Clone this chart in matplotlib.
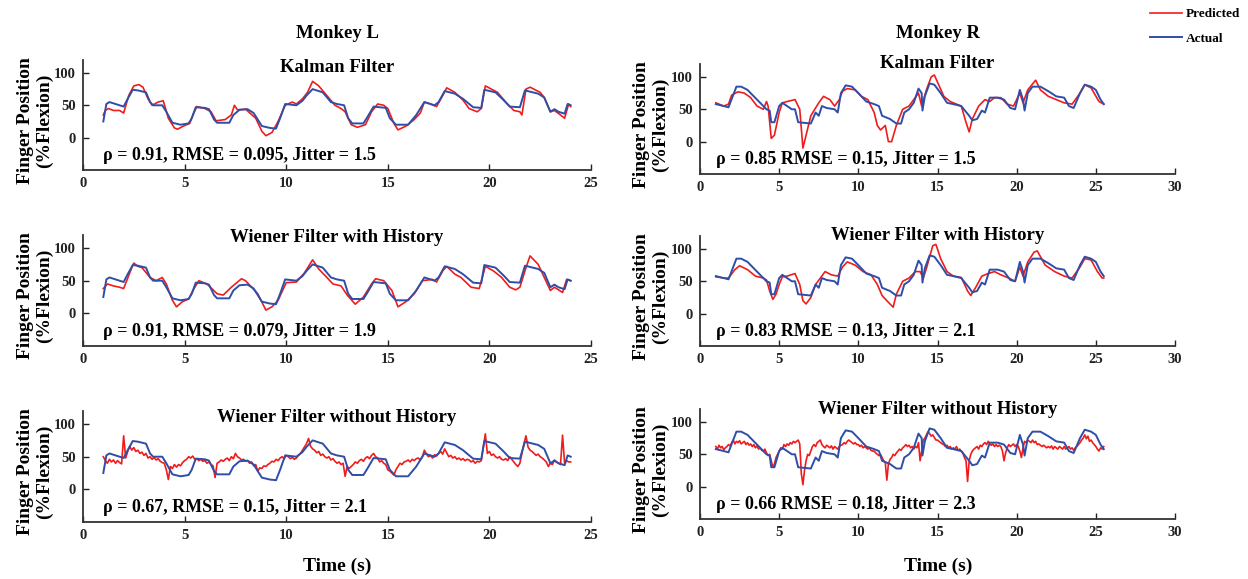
import numpy as np
import matplotlib
matplotlib.use('Agg')
import matplotlib.pyplot as plt

plt.rcParams['font.family'] = ['Liberation Serif', 'DejaVu Serif']
plt.rcParams['font.weight'] = 'bold'

# ---- Monkey L ----
act_L_t = [1.0, 1.15, 1.3, 1.6, 2.0, 2.2, 2.45, 2.7, 3.1, 3.3, 3.45, 3.9, 4.1, 4.4, 4.8, 5.2, 5.35, 5.55,
           6.0, 6.2, 6.45, 6.6, 7.2, 7.4, 7.7, 8.1, 8.4, 8.8, 9.2, 9.5, 9.7, 9.95, 10.5, 10.8, 11.0, 11.3,
           11.8, 12.2, 12.5, 12.85, 13.05, 13.25, 13.8, 14.0, 14.3, 14.9, 15.1, 15.4, 16.0, 16.4, 16.8,
           17.3, 17.5, 17.8, 18.3, 18.7, 19.2, 19.6, 19.75, 20.3, 20.7, 21.0, 21.5, 21.75, 22.4, 22.7,
           23.0, 23.2, 23.4, 23.7, 23.85, 24.0]
act_L_y = [25, 52, 55, 52, 48, 60, 74, 73, 70, 55, 50, 50, 40, 23, 20, 22, 30, 47,
           46, 44, 28, 23, 23, 35, 43, 44, 38, 18, 15, 14, 30, 52, 50, 57, 65, 75,
           70, 55, 52, 50, 30, 22, 22, 32, 48, 46, 30, 20, 20, 35, 55,
           50, 55, 72, 68, 60, 47, 46, 74, 70, 58, 48, 47, 73, 68, 62,
           40, 44, 40, 37, 52, 50]

kal_L_t = [1.0, 1.1, 1.25, 1.5, 1.8, 2.0, 2.25, 2.5, 2.75, 2.95, 3.2, 3.4, 3.7, 3.95, 4.2, 4.5, 4.65,
           4.95, 5.25, 5.45, 5.6, 6.0, 6.3, 6.55, 7.0, 7.3, 7.45, 7.6, 8.0, 8.5, 8.8, 9.0, 9.3, 9.6,
           9.95, 10.3, 10.5, 10.8, 11.05, 11.3, 11.6, 12.0, 12.4, 12.7, 12.9, 13.2, 13.5, 13.9, 14.2,
           14.5, 14.8, 15.0, 15.3, 15.5, 15.9, 16.3, 16.6, 16.8, 17.1, 17.4, 17.7, 17.9, 18.3, 18.7,
           19.0, 19.4, 19.6, 19.8, 20.1, 20.4, 20.8, 21.2, 21.5, 21.6, 21.8, 22.0, 22.5, 22.7, 23.0,
           23.2, 23.5, 23.7, 23.9, 24.0]
kal_L_y = [35, 42, 45, 42, 42, 38, 65, 80, 82, 78, 60, 50, 55, 57, 30, 15, 13,
           18, 22, 38, 48, 45, 40, 26, 28, 35, 50, 43, 44, 30, 10, 3, 8, 25,
           50, 55, 52, 60, 70, 87, 80, 65, 50, 45, 40, 20, 16, 20, 40,
           52, 50, 45, 22, 12, 18, 28, 38, 55, 52, 48, 65, 77, 70, 58,
           45, 40, 45, 80, 75, 70, 55, 42, 40, 35, 75, 78, 70, 62, 40,
           42, 35, 30, 52, 48]

wh_L_t = [1.0, 1.2, 1.5, 1.8, 2.0, 2.4, 2.5, 2.7, 2.9, 3.3, 3.6, 3.9, 4.1, 4.4, 4.6, 4.9, 5.2, 5.5,
          5.7, 6.1, 6.6, 6.9, 7.3, 7.8, 8.0, 8.6, 9.0, 9.3, 9.6, 10.0, 10.5, 10.9, 11.3, 11.6, 12.0,
          12.3, 12.7, 13.0, 13.4, 13.8, 14.2, 14.4, 14.8, 15.2, 15.5, 15.9, 16.3, 16.7, 17.2, 17.4,
          17.7, 17.9, 18.3, 18.6, 19.1, 19.5, 19.8, 20.2, 20.6, 21.0, 21.3, 21.5, 21.8, 22.0, 22.4,
          22.7, 23.0, 23.2, 23.6, 23.8, 24.0]
wh_L_y = [38, 45, 42, 40, 38, 70, 77, 72, 70, 55, 50, 55, 45, 20, 10, 18, 22, 40,
          50, 45, 30, 28, 40, 53, 50, 30, 5, 10, 20, 47, 48, 62, 82, 68, 55,
          45, 42, 28, 14, 25, 45, 53, 50, 35, 10, 18, 30, 50, 52, 48,
          65, 72, 60, 55, 40, 38, 72, 65, 55, 40, 36, 40, 70, 88, 75,
          55, 35, 40, 32, 52, 50]

woh_L_t = np.round(np.arange(1.0, 24.05, 0.1), 2)
woh_L_y = [50, 44, 40, 46, 42, 45, 40, 44, 41, 39,
           82, 48, 58, 66, 60, 64, 58, 60, 55, 57,
           52, 55, 48, 50, 46, 49, 45, 47, 43, 41,
           40, 30, 15, 35, 32, 38, 34, 38, 36, 41,
           44, 46, 50, 48, 51, 46, 47, 44, 46, 43,
           44, 40, 42, 38, 36, 18, 40, 42, 45, 43,
           46, 48, 44, 50, 47, 55, 50, 48, 45, 46,
           43, 44, 40, 42, 36, 38, 28, 33, 32, 36,
           35, 38, 40, 43, 42, 46, 44, 48, 50, 47,
           52, 50, 47, 49, 46, 48, 52, 55, 60, 65,
           70, 78, 66, 62, 60, 56, 58, 52, 54, 50,
           48, 50, 45, 47, 43, 40, 42, 38, 40, 20,
           35, 32, 35, 38, 42, 40, 44, 46, 43, 48,
           50, 47, 52, 55, 50, 48, 42, 44, 40, 38,
           30, 28, 25, 22, 30, 35, 40, 38, 42, 43,
           45, 42, 46, 44, 47, 48, 45, 50, 60, 54,
           50, 52, 48, 53, 51, 55, 58, 54, 62, 56,
           50, 52, 48, 50, 46, 48, 45, 47, 44, 46,
           45, 42, 44, 40, 43, 42, 44, 65, 85, 55,
           58, 52, 54, 50, 48, 50, 46, 45, 47, 44,
           50, 46, 42, 38, 35, 40, 55, 70, 82, 65,
           60, 58, 55, 52, 54, 50, 48, 45, 42, 35,
           40, 38, 45, 42, 40, 38, 83, 40, 44, 42,
           42]

# ---- Monkey R ----
act_R_t = [1.0, 1.5, 1.8, 2.3, 2.6, 3.0, 3.4, 3.8, 4.2, 4.4, 4.5, 4.7, 5.0, 5.2, 5.5, 5.8, 6.0, 6.2,
           7.0, 7.3, 7.5, 7.7, 8.0, 8.5, 8.7, 8.9, 9.2, 9.6, 10.0, 10.5, 11.0, 11.3, 11.5, 12.0, 12.4,
           12.7, 12.9, 13.2, 13.5, 13.8, 14.0, 14.05, 14.2, 14.5, 14.8, 15.2, 15.6, 16.0, 16.5, 17.0,
           17.2, 17.5, 17.8, 18.0, 18.3, 18.8, 19.2, 19.6, 19.9, 20.2, 20.4, 20.5, 20.7, 21.0, 21.5,
           22.0, 22.5, 23.0, 23.3, 23.6, 24.0, 24.3, 24.7, 25.0, 25.3, 25.5]
act_R_y = [58, 55, 53, 85, 85, 80, 70, 60, 50, 48, 30, 30, 55, 60, 55, 50, 50, 30,
           28, 45, 40, 55, 52, 50, 45, 75, 87, 85, 75, 62, 58, 55, 40, 35, 28,
           28, 45, 50, 60, 82, 75, 48, 70, 90, 88, 75, 60, 58, 55, 40,
           33, 35, 48, 45, 68, 68, 65, 52, 50, 80, 65, 48, 75, 85, 85,
           78, 70, 68, 55, 52, 75, 88, 85, 80, 65, 58]

kal_R_t = [1.0, 1.5, 1.8, 2.0, 2.4, 2.8, 3.2, 3.6, 4.0, 4.2, 4.3, 4.5, 4.7, 5.0, 5.2, 5.5, 6.0, 6.3,
           6.5, 6.7, 7.0, 7.5, 7.8, 8.2, 8.5, 8.8, 9.0, 9.3, 9.8, 10.2, 10.6, 11.0, 11.2, 11.4, 11.7,
           11.9, 12.1, 12.4, 12.8, 13.2, 13.5, 13.8, 14.0, 14.3, 14.6, 14.8, 15.0, 15.4, 15.8, 16.2,
           16.5, 16.8, 17.0, 17.2, 17.6, 18.0, 18.3, 18.6, 19.0, 19.4, 19.8, 20.0, 20.2, 20.4, 20.7,
           21.2, 21.5, 22.0, 22.5, 23.0, 23.5, 24.0, 24.3, 24.7, 25.2, 25.5]
kal_R_y = [60, 55, 58, 72, 77, 75, 68, 55, 50, 62, 55, 5, 10, 45, 60, 62, 65, 50,
           -10, 10, 40, 60, 70, 65, 55, 65, 78, 82, 80, 70, 65, 45, 25, 18, 25,
           0, 0, 25, 50, 55, 65, 75, 55, 80, 100, 103, 92, 70, 62, 58,
           55, 30, 15, 35, 55, 65, 62, 68, 68, 58, 55, 65, 75, 60, 80,
           95, 80, 70, 65, 60, 58, 75, 88, 83, 62, 58]

wh_R_t = [1.0, 1.5, 1.8, 2.2, 2.5, 3.0, 3.5, 4.0, 4.2, 4.4, 4.6, 4.8, 5.0, 5.2, 5.5, 6.0, 6.3, 6.5,
          6.7, 7.0, 7.3, 7.6, 7.9, 8.3, 8.7, 9.0, 9.3, 9.8, 10.3, 10.8, 11.2, 11.5, 11.8, 12.0, 12.2,
          12.4, 12.8, 13.2, 13.6, 13.9, 14.1, 14.3, 14.7, 14.9, 15.2, 15.6, 16.0, 16.5, 16.9, 17.1,
          17.4, 17.8, 18.2, 18.6, 19.0, 19.5, 19.9, 20.2, 20.4, 20.7, 21.1, 21.3, 21.8, 22.4, 23.0,
          23.5, 24.0, 24.3, 24.7, 25.1, 25.4, 25.5]
wh_R_y = [57, 55, 55, 68, 74, 68, 58, 55, 52, 35, 22, 30, 45, 57, 58, 62, 45, 20,
          15, 25, 45, 55, 65, 60, 58, 72, 80, 75, 65, 60, 45, 28, 20, 15, 10,
          30, 50, 55, 65, 65, 55, 70, 105, 107, 85, 65, 58, 56, 35, 28,
          40, 58, 62, 65, 60, 55, 50, 72, 58, 80, 95, 97, 75, 65, 58,
          55, 72, 85, 83, 65, 55, 55]

woh_R_t = np.round(np.arange(1.0, 25.55, 0.1), 2)
woh_R_y = [62, 58, 64, 60, 62, 57, 60, 62, 65, 63,
           68, 72, 66, 70, 68, 71, 66, 68, 70, 65,
           68, 64, 66, 62, 65, 60, 63, 58, 60, 56,
           55, 58, 52, 48, 50, 40, 30, 35, 45, 50,
           55, 60, 58, 65, 62, 66, 64, 68, 66, 70,
           68, 70, 72, 66, 20, 3, 25, 40, 50, 48,
           55, 62, 65, 62, 68, 70, 72, 65, 62, 60,
           64, 62, 60, 63, 58, 62, 60, 58, 62, 64,
           65, 68, 66, 70, 72, 70, 68, 66, 68, 65,
           65, 62, 64, 60, 62, 60, 58, 60, 56, 55,
           55, 52, 50, 48, 50, 45, 40, 38, 10, 35,
           42, 45, 50, 48, 52, 55, 58, 56, 60, 62,
           65, 62, 64, 60, 62, 58, 62, 60, 68, 40,
           55, 72, 75, 80, 85, 82, 78, 80, 76, 72,
           72, 70, 68, 66, 65, 62, 64, 60, 62, 58,
           60, 58, 62, 56, 58, 55, 52, 45, 40, 8,
           40, 50, 55, 58, 60, 62, 58, 64, 62, 66,
           68, 65, 70, 66, 64, 66, 62, 65, 62, 64,
           62, 55, 40, 52, 60, 65, 62, 64, 66, 62,
           65, 62, 55, 45, 60, 70, 68, 72, 70, 68,
           72, 68, 70, 65, 66, 64, 62, 64, 62, 60,
           62, 60, 63, 58, 62, 60, 58, 62, 60, 58,
           62, 58, 60, 62, 58, 60, 56, 60, 62, 65,
           68, 72, 75, 80, 74, 78, 70, 72, 68, 65,
           62, 58, 55, 60, 58, 62]

titles = ['Kalman Filter', 'Wiener Filter with History', 'Wiener Filter without History']
stats_L = ['\u03c1 = 0.91, RMSE = 0.095, Jitter = 1.5',
           '\u03c1 = 0.91, RMSE = 0.079, Jitter = 1.9',
           '\u03c1 = 0.67, RMSE = 0.15, Jitter = 2.1']
stats_R = ['\u03c1 = 0.85 RMSE = 0.15, Jitter = 1.5',
           '\u03c1 = 0.83 RMSE = 0.13, Jitter = 2.1',
           '\u03c1 = 0.66 RMSE = 0.18, Jitter = 2.3']

RED = '#f01c1c'
BLUE = '#2e4ea8'
W, H = 1248, 579

fig = plt.figure(figsize=(W / 100, H / 100), dpi=100)


def px_ax(left, right, top, bottom):
    return fig.add_axes([left / W, 1 - bottom / H, (right - left) / W, (bottom - top) / H])


left_rows = [(60, 170), (235, 346), (411, 522)]
right_rows = [(64, 174), (236, 346), (409, 519)]

cols = [
    dict(xr=(83, 591), rows=left_rows, xmax=25, act=(act_L_t, act_L_y),
         preds=[(kal_L_t, kal_L_y), (wh_L_t, wh_L_y), (woh_L_t, woh_L_y)], stats=stats_L,
         title_y=[67, 237, 417], name='Monkey L', cx=337, ylab_x=-0.058),
    dict(xr=(700, 1175), rows=right_rows, xmax=30, act=(act_R_t, act_R_y),
         preds=[(kal_R_t, kal_R_y), (wh_R_t, wh_R_y), (woh_R_t, woh_R_y)], stats=stats_R,
         title_y=[63, 235, 409], name='Monkey R', cx=938, ylab_x=-0.064),
]

handles = None
for c in cols:
    for i, (top, bot) in enumerate(c['rows']):
        ax = px_ax(c['xr'][0], c['xr'][1], top, bot)
        hp, = ax.plot(c['preds'][i][0], c['preds'][i][1], color=RED, lw=1.2, label='Predicted')
        ha, = ax.plot(c['act'][0], c['act'][1], color=BLUE, lw=1.4, label='Actual')
        if handles is None:
            handles = [hp, ha]
        ax.set_xlim(0, c['xmax'])
        ax.set_ylim(-50, 120)
        ax.set_xticks(np.arange(0, c['xmax'] + 1, 5))
        ax.set_yticks([0, 50, 100])
        for s in ['top', 'right']:
            ax.spines[s].set_visible(False)
        for s in ['left', 'bottom']:
            ax.spines[s].set_linewidth(1.3)
            ax.spines[s].set_color('#333333')
        ax.tick_params(direction='in', length=4, width=1, labelsize=10.5, pad=5, colors='#222222')
        ax.text(1.0, -28, c['stats'][i], fontsize=13, fontweight='bold', ha='left', va='center')
        fig.text((c['xr'][0] + c['xr'][1]) / 2 / W, 1 - c['title_y'][i] / H, titles[i],
                 fontsize=13.5, fontweight='bold', ha='center', va='center')
        ax.set_ylabel('Finger Position\n(%Flexion)', fontsize=14, fontweight='bold', linespacing=1.15)
        ax.yaxis.set_label_coords(c['ylab_x'], 0.45)
        if i == 2:
            fig.text(c['cx'] / W, 1 - 566 / H, 'Time (s)', fontsize=14, fontweight='bold',
                     ha='center', va='center')
    fig.text(c['cx'] / W, 1 - 34 / H, c['name'], fontsize=13.5, fontweight='bold',
             ha='center', va='center')

fig.legend(handles, ['Predicted', 'Actual'], loc='upper right', bbox_to_anchor=(0.998, 0.995),
           frameon=False, fontsize=9.5, handlelength=2.4, labelspacing=0.9, borderaxespad=0,
           handletextpad=0.3)

fig.savefig('out.png', dpi=100)
